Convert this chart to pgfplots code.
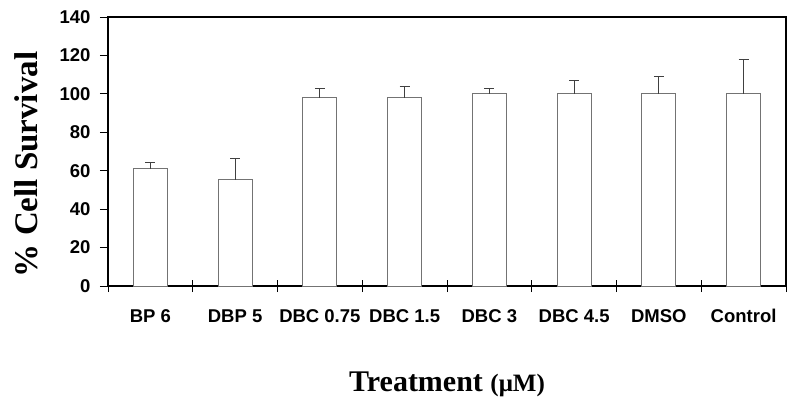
\documentclass[border=0pt]{standalone}
\usepackage{fontspec}
\setmainfont{Liberation Serif}
\setsansfont{Liberation Sans}
\usepackage{pgfplots}
\pgfplotsset{compat=1.18}

\begin{document}
\begin{tikzpicture}
  \begin{axis}[
    scale only axis,
    width=678pt, height=269pt,
    at={(0,0)}, anchor=south west,
    ybar, bar width=0.4,
    xmin=-0.5, xmax=7.5,
    ymin=0, ymax=140,
    ytick={0,20,...,140},
    xtick={0,...,7},
    xticklabels={BP 6, DBP 5, DBC 0.75, DBC 1.5, DBC 3, DBC 4.5, DMSO, Control},
    xtick pos=left, ytick pos=left,
    every major x tick/.append style={draw=none},
    minor xtick={-0.5,0.5,...,7.5},
    every minor x tick/.append style={yshift=6pt, line width=0.9pt, black},
    minor tick length=12pt,
    tick align=outside,
    major tick length=8pt,
    every major y tick/.append style={line width=0.9pt, black},
    axis line style={line width=2.6pt},
    /pgf/number format/assume math mode=true,
    tick label style={font=\sffamily\bfseries\fontsize{18.5}{20}\selectfont},
    xticklabel style={anchor=base, yshift=-28pt},
    yticklabel style={anchor=east, xshift=-6pt},
    xlabel={\fontsize{30}{30}\selectfont Treatment \fontsize{25}{25}\selectfont(μM)},
    xlabel style={at={(axis description cs:0.5,-0.393)}, anchor=base, font=\bfseries},
    ylabel={\% Cell Survival},
    ylabel style={at={(axis description cs:-0.1032,0.452)}, anchor=south, inner sep=0pt,
      font=\bfseries\fontsize{33}{33}\selectfont},
  ]
    \addplot[draw=black!55, line width=0.9pt, fill=white,
      error bars/.cd, y dir=plus, y explicit,
      error mark=-,
      error bar style={line width=1pt, black!75},
      error mark options={rotate=90, line width=1pt, black!75, mark size=5pt}]
      coordinates {
        (0,61) +- (0,3.4)
        (1,55.2) +- (0,11.1)
        (2,97.9) +- (0,4.8)
        (3,97.9) +- (0,5.7)
        (4,100) +- (0,3)
        (5,100) +- (0,7.2)
        (6,100) +- (0,9.2)
        (7,100) +- (0,17.8)
      };
  \end{axis}
  \pgfresetboundingbox
  \path (-108pt,-121pt) rectangle (692pt,286pt);
\end{tikzpicture}
\end{document}
